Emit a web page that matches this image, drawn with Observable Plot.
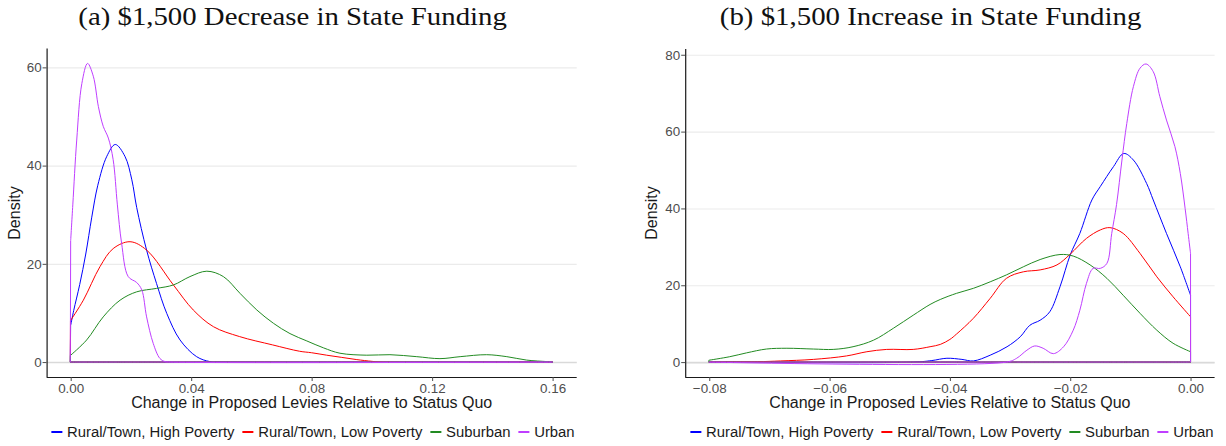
<!DOCTYPE html>
<html><head><meta charset="utf-8">
<script src="https://cdn.jsdelivr.net/npm/d3@7"></script>
<script src="https://cdn.jsdelivr.net/npm/@observablehq/plot@0.6"></script>
<style>
body{margin:0;background:#fff;}
#root{position:relative;width:1226px;height:446px;overflow:hidden;font-family:"Liberation Sans",Arial,sans-serif;}
.ttl{position:absolute;white-space:nowrap;color:#1a1a1a;}
.legend{position:absolute;top:423px;height:18px;display:flex;align-items:center;white-space:nowrap;font-size:14.85px;color:#1a1a1a;transform:translateX(-50%);}
.legend .dash{display:inline-block;width:10.7px;height:1.3px;margin-right:5px;}
.legend .lab{margin-right:8px;}
</style></head><body><div id="root"></div>
<script>
// ---------- categories / styling ----------
const groups = ["Rural/Town, High Poverty", "Rural/Town, Low Poverty", "Suburban", "Urban"];
const groupColors = ["#0000FF", "#FF0000", "#228B22", "#BF3EFF"];
const titles = ["(a) $1,500 Decrease in State Funding", "(b) $1,500 Increase in State Funding"];
const xTitle = "Change in Proposed Levies Relative to Status Quo";
const yTitle = "Density";
const aXTicks = [0, 0.04, 0.08, 0.12, 0.16];
const aYTicks = [0, 20, 40, 60];
const bXTicks = [-0.08, -0.06, -0.04, -0.02, 0];
const bYTicks = [0, 20, 40, 60, 80];

// ---------- panel (a): $1,500 decrease ----------
const aHighX = [0, 0.001, 0.003, 0.005, 0.007, 0.009, 0.012, 0.0148, 0.018, 0.0203, 0.0219, 0.0252, 0.0285, 0.0319, 0.0363, 0.0418, 0.0462, 0.05, 0.16];
const aHighY = [7.5, 10.5, 15.8, 22, 29.5, 36, 41.9, 44.3, 41.9, 37.1, 31.5, 22.8, 16, 9.9, 4.5, 1.1, 0.1, 0, 0];
const aLowX = [0, 0.0042, 0.0097, 0.0141, 0.0197, 0.0252, 0.0341, 0.0407, 0.0474, 0.056, 0.067, 0.076, 0.08, 0.085, 0.09, 0.095, 0.1, 0.103, 0.16];
const aLowY = [8.5, 12.6, 19.4, 23.1, 24.5, 22.8, 15.7, 10.6, 7.2, 5.2, 3.5, 2.2, 1.9, 1.4, 0.95, 0.5, 0.15, 0, 0];
const aSubX = [0, 0.0053, 0.0108, 0.0164, 0.0219, 0.0285, 0.0341, 0.0396, 0.0452, 0.0507, 0.0562, 0.0618, 0.0673, 0.0728, 0.0784, 0.0839, 0.0894, 0.0983, 0.106, 0.1149, 0.1226, 0.1293, 0.1381, 0.1448, 0.1514, 0.158, 0.16];
const aSubY = [1.4, 4.5, 9.2, 12.6, 14.3, 15.0, 15.7, 17.4, 18.5, 17.4, 14.0, 10.6, 7.9, 5.8, 4.3, 2.9, 1.8, 1.4, 1.5, 1.1, 0.7, 1.1, 1.5, 1.1, 0.4, 0.1, 0];
const aUrbX = [0, 0.0007, 0.002, 0.0037, 0.0056, 0.0075, 0.0092, 0.0108, 0.0125, 0.0141, 0.0155, 0.0169, 0.0191, 0.0219, 0.0236, 0.0252, 0.0274, 0.0296, 0.0313, 0.033, 0.16];
const aUrbY = [24.8, 32, 45.2, 56.7, 60.8, 58.2, 52, 48, 45.6, 41.2, 32, 24.2, 17.4, 16.2, 14.7, 9.2, 3.8, 0.75, 0.1, 0, 0];

// ---------- panel (b): $1,500 increase ----------
const bHighX = [-0.08, -0.046, -0.043, -0.0405, -0.038, -0.0361, -0.0333, -0.0305, -0.0283, -0.0267, -0.025, -0.0234, -0.0217, -0.02, -0.0184, -0.0164, -0.015, -0.0128, -0.0111, -0.0095, -0.0073, -0.0062, -0.004, -0.0017, 0];
const bHighY = [0, 0, 0.4, 1.0, 0.7, 0.3, 1.8, 4.0, 6.6, 9.6, 10.9, 13.1, 19.6, 27.9, 33.5, 42.2, 45.7, 50.9, 54.3, 52.6, 46.5, 42.2, 33.5, 24.8, 17.4];
const bLowX = [-0.08, -0.072, -0.0682, -0.0627, -0.0572, -0.0538, -0.0505, -0.0461, -0.0433, -0.0416, -0.04, -0.0389, -0.0361, -0.0333, -0.0306, -0.0278, -0.025, -0.0222, -0.02, -0.0173, -0.015, -0.0134, -0.0112, -0.0084, -0.0056, -0.0029, 0];
const bLowY = [0, 0.1, 0.3, 0.7, 1.6, 2.7, 3.3, 3.3, 4.0, 4.6, 5.9, 7.3, 11.4, 16.6, 21.8, 23.5, 24.0, 25.3, 28.1, 32.2, 34.4, 35.0, 33.5, 28.3, 22.2, 17.0, 11.8];
const bSubX = [-0.08, -0.0766, -0.0738, -0.0705, -0.0671, -0.0627, -0.0594, -0.0561, -0.0527, -0.0494, -0.0461, -0.0433, -0.0416, -0.0389, -0.0361, -0.0333, -0.0306, -0.0278, -0.025, -0.0217, -0.0195, -0.0167, -0.0139, -0.0112, -0.0084, -0.0056, -0.0029, 0];
const bSubY = [0.5, 1.4, 2.4, 3.4, 3.6, 3.4, 3.3, 4.0, 5.7, 8.8, 12.2, 15.0, 16.3, 17.9, 19.2, 20.9, 22.7, 24.8, 26.7, 28.0, 27.6, 25.3, 21.8, 17.4, 12.7, 8.3, 4.9, 2.7];
const bUrbX = [-0.08, -0.0306, -0.0289, -0.0272, -0.0259, -0.0245, -0.0228, -0.0211, -0.0195, -0.0184, -0.0173, -0.0162, -0.015, -0.0139, -0.0131, -0.0123, -0.0114, -0.0106, -0.0095, -0.0084, -0.0074, -0.0062, -0.0051, -0.004, -0.0026, -0.0017, -0.0009, -0.0004, 0];
const bUrbY = [0, 0, 1.0, 3.1, 4.2, 3.6, 2.2, 4.0, 8.3, 13.5, 20.5, 24.4, 24.4, 25.7, 33.5, 41, 52.6, 62.1, 71.7, 76.5, 77.6, 75.6, 69.1, 63, 56.1, 49.1, 40, 33.5, 28.3];

const toRows = (xs, ys) => xs.map((x, i) => ({x, y: ys[i]}));
const aSeries = [toRows(aHighX, aHighY), toRows(aLowX, aLowY), toRows(aSubX, aSubY), toRows(aUrbX, aUrbY)];
const bSeries = [toRows(bHighX, bHighY), toRows(bLowX, bLowY), toRows(bSubX, bSubY), toRows(bUrbX, bUrbY)];

const root = document.getElementById("root");
const fmt = d3.format(".2f");

function panel(series, opts) {
  const marks = [
    Plot.gridY(opts.yTicks, {stroke: "#ebebeb", strokeOpacity: 1, strokeWidth: 1.1}),
    Plot.ruleY([0], {stroke: "#d9d9d9", strokeWidth: 1.6}),
    ...series.map((rows, i) => Plot.areaY(rows, {x: "x", y: "y", fill: "none", stroke: groupColors[i], strokeWidth: 1, curve: "catmull-rom"})),
    Plot.ruleX([opts.xDomain[0]], {stroke: "#1a1a1a", strokeWidth: 1.2}),
    Plot.ruleY([opts.yDomain[0]], {stroke: "#1a1a1a", strokeWidth: 1.2}),
    Plot.axisX({ticks: opts.xTicks, tickFormat: fmt, tickSize: 4, tickPadding: 1.5, fontSize: 13.4, color: "#4d4d4d", label: null}),
    Plot.axisY({ticks: opts.yTicks, tickSize: 4, tickPadding: 1.5, fontSize: 13.4, color: "#4d4d4d", label: null})
  ];
  const svg = Plot.plot({
    width: opts.width, height: 446,
    marginLeft: opts.ml, marginRight: opts.mr, marginTop: opts.mt, marginBottom: 69,
    x: {domain: opts.xDomain},
    y: {domain: opts.yDomain},
    style: {fontFamily: "'Liberation Sans', Arial, sans-serif", background: "transparent", overflow: "visible"},
    marks
  });
  svg.style.position = "absolute";
  svg.style.left = opts.left + "px";
  svg.style.top = "0px";
  root.appendChild(svg);
}

panel(aSeries, {left: 0, width: 613, ml: 46.6, mr: 613 - 576.7, mt: 48.5, xDomain: [-0.008, 0.168], yDomain: [-3.04, 63.84], xTicks: aXTicks, yTicks: aYTicks});
panel(bSeries, {left: 613, width: 613, ml: 72.2, mr: 11.4, mt: 49, xDomain: [-0.084, 0.004], yDomain: [-3.88, 81.5], xTicks: bXTicks, yTicks: bYTicks});

// titles (serif)
const ns = "http://www.w3.org/2000/svg";
const tsvg = document.createElementNS(ns, "svg");
tsvg.setAttribute("width", 1226); tsvg.setAttribute("height", 40);
tsvg.style.position = "absolute"; tsvg.style.left = "0px"; tsvg.style.top = "0px";
[[292.6, 428.5], [930.6, 421.6]].forEach(([cx, w], i) => {
  const t = document.createElementNS(ns, "text");
  t.setAttribute("x", cx); t.setAttribute("y", 25);
  t.setAttribute("text-anchor", "middle");
  t.setAttribute("font-family", "'Liberation Serif', 'DejaVu Serif', serif");
  t.setAttribute("font-size", 26);
  t.setAttribute("fill", "#111");
  t.setAttribute("textLength", w);
  t.setAttribute("lengthAdjust", "spacingAndGlyphs");
  t.textContent = titles[i];
  tsvg.appendChild(t);
});
root.appendChild(tsvg);

// axis titles
[[311.7, 14.7], [949.9, 652]].forEach(([cx, dx]) => {
  const xt = document.createElement("div");
  xt.className = "ttl";
  xt.style.fontSize = "16px";
  xt.style.left = cx + "px"; xt.style.top = "402.7px";
  xt.style.transform = "translate(-50%,-50%)";
  xt.textContent = xTitle;
  root.appendChild(xt);
  const yt = document.createElement("div");
  yt.className = "ttl";
  yt.style.fontSize = "16px";
  yt.style.left = dx + "px"; yt.style.top = "213px";
  yt.style.transform = "translate(-50%,-50%) rotate(-90deg)";
  yt.textContent = yTitle;
  root.appendChild(yt);
});

// legends
[313, 952].forEach(cx => {
  const lg = document.createElement("div");
  lg.className = "legend";
  lg.style.left = cx + "px";
  groups.forEach((g, i) => {
    const d = document.createElement("span");
    d.className = "dash"; d.style.background = groupColors[i];
    const l = document.createElement("span");
    l.className = "lab"; l.textContent = g;
    if (i === groups.length - 1) l.style.marginRight = "0px";
    lg.appendChild(d); lg.appendChild(l);
  });
  root.appendChild(lg);
});
</script>
</body></html>
